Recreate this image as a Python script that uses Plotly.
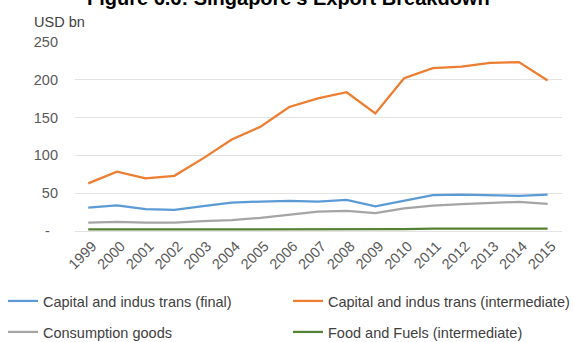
import plotly.graph_objects as go

years = [str(y) for y in range(1999, 2016)]

cap_final = [31, 34, 29, 28, 33, 37.5, 39, 40, 39, 41, 32.5, 40, 47.5, 48, 47, 46.5, 48]
cap_intermediate = [63, 78.5, 69.5, 73, 96, 121, 138, 164, 175.5, 183.5, 155.5, 202, 215.5, 217.5, 222.5, 223.5, 199]
consumption = [11, 12, 11, 11, 13, 14.5, 17.5, 22, 25.5, 26.5, 23.5, 30, 33.5, 35.5, 37, 38.5, 36]
food_fuels = [2, 2, 2, 2, 2, 2, 2, 2.5, 2.5, 2.5, 2.5, 2.5, 3, 3, 3, 3, 3]

series_names = [
    "Capital and indus trans (final)",
    "Capital and indus trans (intermediate)",
    "Consumption goods",
    "Food and Fuels (intermediate)",
]
series_values = [cap_final, cap_intermediate, consumption, food_fuels]
series_colors = ["#5b9bd5", "#ed7d31", "#a5a5a5", "#548235"]

y_ticks = [0, 50, 100, 150, 200, 250]
y_tick_text = ["-\u00a0\u00a0", "50", "100", "150", "200", "250"]

FONT = "Liberation Sans, Arial, sans-serif"
FS = 14.5

# plot area in pixels
W, H = 574, 342
L, R, T, B = 75, 12, 42, 111
PW, PH = W - L - R, H - T - B


def px_x(p):
    return (p - L) / PW


def px_y(p):
    return (H - B - p) / PH


# one legend box per entry, laid out in a 2 x 2 grid below the axis
legend_slots = [(3, 301), (288, 301), (3, 332), (288, 332)]
legend_keys = ["legend", "legend2", "legend3", "legend4"]

fig = go.Figure()
for name, vals, color, key in zip(series_names, series_values, series_colors, legend_keys):
    fig.add_trace(go.Scatter(
        x=years, y=vals, name=name, mode="lines",
        line=dict(color=color, width=2.25),
        legend=key,
    ))

legend_layout = {}
for key, (lx, ly) in zip(legend_keys, legend_slots):
    legend_layout[key] = dict(
        x=px_x(lx), y=px_y(ly),
        xanchor="left", yanchor="middle",
        orientation="h",
        font=dict(family=FONT, size=FS, color="#404040"),
        bgcolor="rgba(0,0,0,0)",
        itemwidth=30,
    )

fig.update_layout(
    width=W,
    height=H,
    margin=dict(l=L, r=R, t=T, b=B, autoexpand=False),
    paper_bgcolor="white",
    plot_bgcolor="white",
    font=dict(family=FONT, size=FS, color="#595959"),
    showlegend=True,
    xaxis=dict(
        type="category",
        range=[-0.46, 16.5],
        tickangle=-45,
        showgrid=False,
        showline=False,
        ticks="",
        automargin=False,
        ticklabelshift=4,
        ticklabelstandoff=3,
        tickfont=dict(family=FONT, size=FS, color="#595959"),
    ),
    yaxis=dict(
        range=[0, 250],
        tickvals=y_ticks,
        ticktext=y_tick_text,
        showgrid=True,
        gridcolor="#e3e3e3",
        gridwidth=1,
        zeroline=True,
        zerolinecolor="#e3e3e3",
        zerolinewidth=1,
        showline=False,
        ticks="",
        automargin=False,
        ticklabelstandoff=16,
        tickfont=dict(family=FONT, size=FS, color="#595959"),
    ),
    annotations=[
        dict(
            text="<b>Figure 6.6: Singapore's Export Breakdown</b>",
            xref="paper", yref="paper",
            x=px_x(288), y=px_y(-2),
            xanchor="center", yanchor="middle", showarrow=False,
            font=dict(family=FONT, size=20, color="#000000"),
        ),
        dict(
            text="USD bn", xref="paper", yref="paper",
            x=px_x(32), y=px_y(22),
            xanchor="left", yanchor="middle", showarrow=False,
            font=dict(family=FONT, size=FS, color="#404040"),
        ),
    ],
    **legend_layout,
)

fig.write_html("out.html")
